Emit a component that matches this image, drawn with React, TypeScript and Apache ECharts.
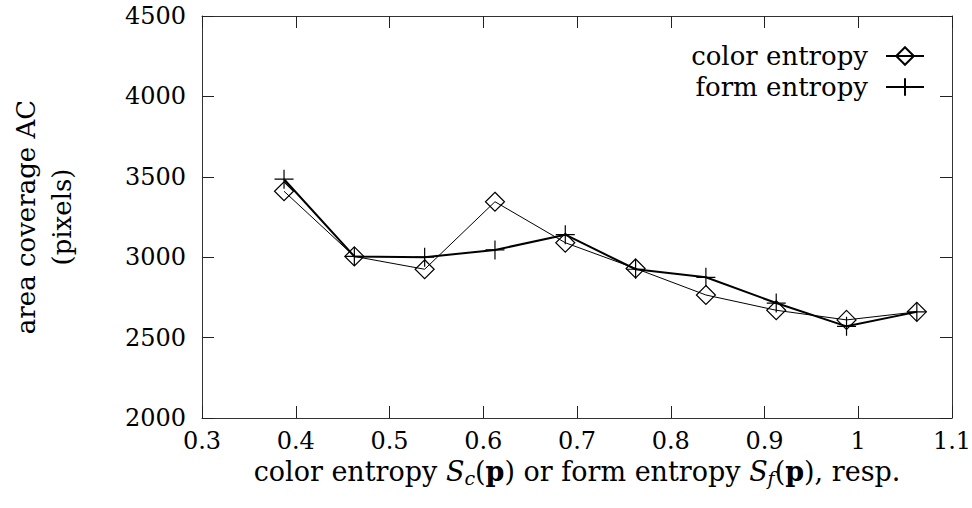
import React, { useEffect, useRef } from "react";
import * as echarts from "echarts";

const xValues = [0.3875, 0.4625, 0.5375, 0.6125, 0.6875, 0.7625, 0.8375, 0.9125, 0.9875, 1.0625];
const colorEntropy = [3410, 3005, 2925, 3345, 3090, 2930, 2765, 2670, 2610, 2660];
const formEntropy = [3485, 3005, 3000, 3045, 3140, 2925, 2875, 2715, 2570, 2660];
const seriesNames = ["color entropy", "form entropy"];
const yTitle = "area coverage AC\n(pixels)";

const FONT = "'DejaVu Serif', serif";
const PLUS = "path://M10,0 L10,20 M0,10 L20,10";

export default function App() {
  const ref = useRef<HTMLDivElement>(null);
  useEffect(() => {
    document.body.style.margin = "0";
    const chart = echarts.init(ref.current!, null, { renderer: "svg" });
    const axisLine = { show: true, lineStyle: { color: "#333", width: 1 } };
    const tick = { show: true, inside: true, length: 12, lineStyle: { color: "#222", width: 1 } };
    const fmt = (v: number) => String(parseFloat(v.toFixed(2)));
    chart.setOption({
      animation: false,
      backgroundColor: "#fff",
      textStyle: { fontFamily: FONT, color: "#000" },
      grid: { left: 202, right: 20, top: 16, bottom: 90, containLabel: false, outerBoundsMode: "none" },
      legend: {
        orient: "vertical",
        right: 42,
        top: 36,
        align: "right",
        itemWidth: 38,
        itemHeight: 22,
        itemGap: 1,
        textStyle: { fontFamily: FONT, fontSize: 26, color: "#000", lineHeight: 30, padding: [0, 13, 0, 0] },
        data: seriesNames,
      },
      xAxis: [
        {
          type: "value",
          min: 0.3,
          max: 1.1,
          interval: 0.1,
          axisLine,
          axisTick: tick,
          splitLine: { show: false },
          axisLabel: { fontFamily: FONT, fontSize: 24, color: "#000", margin: 11, formatter: fmt },
          name: "{t|color entropy }{i|S}{s|c}{t|(}{b|p}{t|) or form entropy }{i|S}{s|f}{t|(}{b|p}{t|), resp.}",
          nameLocation: "middle",
          nameGap: 32,
          nameTextStyle: {
            rich: {
              t: { fontFamily: FONT, fontSize: 27, color: "#000", lineHeight: 32 },
              i: { fontFamily: FONT, fontSize: 27, fontStyle: "italic", color: "#000", lineHeight: 32 },
              s: { fontFamily: FONT, fontSize: 19, fontStyle: "italic", color: "#000", lineHeight: 20, verticalAlign: "bottom" },
              b: { fontFamily: FONT, fontSize: 27, fontWeight: "bold", color: "#000", lineHeight: 32 },
            },
          },
        },
        {
          type: "value",
          position: "top",
          min: 0.3,
          max: 1.1,
          interval: 0.1,
          axisLine,
          axisTick: tick,
          splitLine: { show: false },
          axisLabel: { show: false },
        },
      ],
      yAxis: [
        {
          type: "value",
          min: 2000,
          max: 4500,
          interval: 500,
          axisLine,
          axisTick: tick,
          splitLine: { show: false },
          axisLabel: { fontFamily: FONT, fontSize: 24, color: "#000", margin: 16, formatter: (v: number) => String(v) },
          name: yTitle,
          nameLocation: "middle",
          nameRotate: 90,
          nameGap: 122,
          nameTextStyle: { fontFamily: FONT, fontSize: 26, color: "#000", lineHeight: 36 },
        },
        {
          type: "value",
          position: "right",
          min: 2000,
          max: 4500,
          interval: 500,
          axisLine,
          axisTick: tick,
          splitLine: { show: false },
          axisLabel: { show: false },
        },
      ],
      series: [
        {
          name: seriesNames[0],
          type: "line",
          data: xValues.map((x, i) => [x, colorEntropy[i]]),
          symbol: "diamond",
          symbolSize: 19,
          color: "#000",
          lineStyle: { color: "#000", width: 1 },
          itemStyle: { color: "none", borderColor: "#000", borderWidth: 1.2 },
          z: 3,
        },
        {
          name: seriesNames[1],
          type: "line",
          data: xValues.map((x, i) => [x, formEntropy[i]]),
          symbol: PLUS,
          symbolSize: 19,
          color: "#000",
          lineStyle: { color: "#000", width: 2 },
          itemStyle: { color: "none", borderColor: "#000", borderWidth: 1.2 },
          z: 2,
        },
      ],
    });
    return () => chart.dispose();
  }, []);
  return <div ref={ref} style={{ width: 972, height: 508 }} />;
}
